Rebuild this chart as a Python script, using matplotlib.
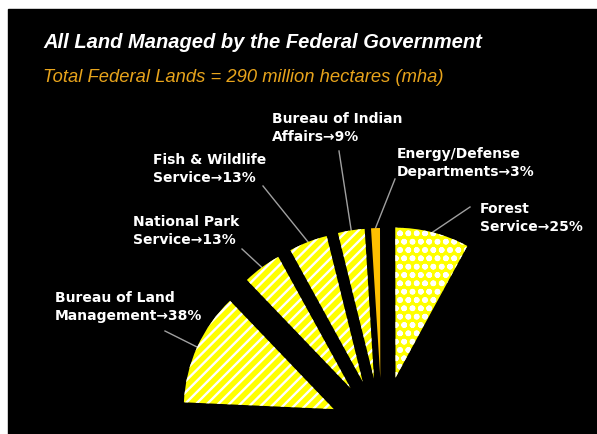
import matplotlib
matplotlib.use("Agg")
import numpy as np
import matplotlib.pyplot as plt
from matplotlib.patches import Rectangle

# --- data ---
agencies = ["Bureau of Land\nManagement", "National Park\nService",
            "Fish & Wildlife\nService", "Bureau of Indian\nAffairs",
            "Energy/Defense\nDepartments", "Forest\nService"]
shares = [38, 13, 13, 9, 3, 25]  # percent of 290 mha
slice_colors = ["#FFFF00", "#FFFF00", "#FFFF00", "#FFFF00", "#FFC000", "#FFFF00"]
slice_hatches = ["///", "///", "///", "///", "", "oo"]

title = "All Land Managed by the Federal Government"
subtitle = "Total Federal Lands = 290 million hectares (mha)"

# --- layout (pixels of the 597x435 slide, y measured from top) ---
W, H = 597, 435
SPAN_DEG = 116          # the fan only covers part of a circle
START_DEG = 177.4
CENTER = (382, 432)
RADIUS = 150
EXPLODE = [53, 53, 53, 53, 53, 55]   # data units (pixels)
label_pos = [(55, 307), (133, 231), (153, 169), (272, 128), (397, 163), (480, 218)]
leader_start = [(165, 332), (242, 250), (263, 187), (339, 152), (395, 180), (470, 208)]


def fy(py):
    return H - py


plt.rcParams["hatch.linewidth"] = 1.7

fig = plt.figure(figsize=(W / 100, H / 100), dpi=100, facecolor="white")
ax = fig.add_axes([0, 0, 1, 1])

fracs = [s / sum(shares) * SPAN_DEG / 360 for s in shares]
wedges, _ = ax.pie(fracs, normalize=False, startangle=START_DEG, counterclock=False,
                   colors=slice_colors, radius=RADIUS,
                   center=(CENTER[0], fy(CENTER[1])),
                   explode=EXPLODE,
                   wedgeprops=dict(linewidth=0, edgecolor="white"))
for w, h in zip(wedges, slice_hatches):
    w.set_hatch(h)
    w.set_zorder(2)

ax.add_patch(Rectangle((8, 0), W - 8, H - 10, color="black", zorder=0))
ax.set_xlim(0, W)
ax.set_ylim(0, H)
ax.set_aspect("equal")
ax.axis("off")

# labels with leader lines to the middle of each wedge's arc
for w, name, pct, (lx, ly), (sx, sy) in zip(wedges, agencies, shares, label_pos, leader_start):
    mid = np.deg2rad((w.theta1 + w.theta2) / 2)
    ex = w.center[0] + w.r * np.cos(mid)
    ey = w.center[1] + w.r * np.sin(mid)
    ax.plot([sx, ex], [fy(sy), ey], color="#A0A0A0", lw=1.0, zorder=1)
    ax.text(lx, fy(ly), f"{name}\u2192{pct}%", color="white", fontsize=10,
            fontweight="bold", family="DejaVu Sans", ha="left", va="center",
            linespacing=1.3, zorder=3)

ax.text(43, fy(48), title, color="white", fontsize=14.5, fontweight="bold",
        style="italic", family="Liberation Sans", ha="left", va="baseline")
ax.text(43, fy(82), subtitle, color="#E8A41C", fontsize=13.2,
        style="italic", family="Liberation Sans", ha="left", va="baseline")

fig.savefig("out.png", dpi=100, facecolor="white")
